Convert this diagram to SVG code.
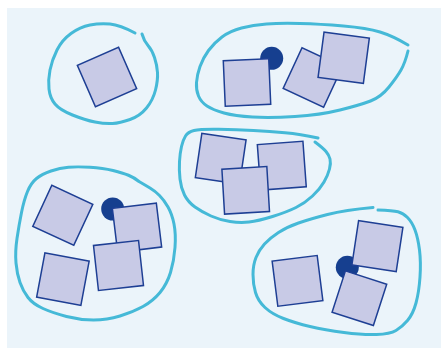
<svg xmlns="http://www.w3.org/2000/svg" width="441" height="348" viewBox="0 0 441 348">
<style>
.bg{fill:#EBF4FA}
.blob{fill:none;stroke:#45B9D7;stroke-width:3;stroke-linecap:round;stroke-linejoin:round}
.sq{fill:#C8CAE6;stroke:#1E3F94;stroke-width:1.5}
.dot{fill:#163F8F}
</style>
<rect class="bg" x="7" y="8" width="434" height="340"/>
<g id="blobs">
<path class="blob" d="M142,34 Q144,41 148,45.5 Q152,50 154.5,57.5 Q157,65 157.5,72.5 Q158,80 155.5,90 Q153,100 146.5,108 Q140,116 130,119.5 Q120,123 112.5,123.5 Q105,124 95,122 Q85,120 72.5,115 Q60,110 55,104 Q50,98 49,89 Q48,80 50,70 Q52,60 57,50 Q62,40 71,33.5 Q80,27 90,25 Q100,23 110,24 Q120,25 135,33"/>
<path class="blob" d="M408,45 Q393,36 380,32 Q367,28 343.5,26 Q320,24 300,23.5 Q280,23 266.5,24 Q253,25 241.5,28 Q230,31 222,37 Q214,43 208.5,50.5 Q203,58 200,66.5 Q197,75 196.5,82.5 Q196,90 198.5,96 Q201,102 207,106 Q213,110 224,113 Q235,116 252.5,117 Q270,118 295,116.5 Q320,115 340,110 Q360,105 370.5,101 Q381,97 389,87 Q397,77 401,70 Q405,63 408,51"/>
<path class="blob" d="M318,138 Q300,134 285,132.75 Q270,131.5 253.5,130.5 Q237,129.5 218.5,129.25 Q200,129 194,130.5 Q188,132 185.5,136 Q183,140 181.5,146.5 Q180,153 179.5,161.5 Q179,170 180,179 Q181,188 184.5,195 Q188,202 195,207 Q202,212 211,216 Q220,220 230,221.5 Q240,223 249,222 Q258,221 272.5,216.5 Q287,212 296,207.5 Q305,203 312.5,196 Q320,189 324,182 Q328,175 329.5,169 Q331,163 330,159 Q329,155 326,151.5 Q323,148 315,142"/>
<path class="blob" d="M139,181.5 Q134,177.5 128.5,175.25 Q123,173 113,170.5 Q103,168 90,167.25 Q77,166.5 68.5,167.25 Q60,168 51,171 Q42,174 36.5,178.5 Q31,183 27.5,191.5 Q24,200 21.5,212.5 Q19,225 17,238.5 Q15,252 16,263 Q17,274 20,282.5 Q23,291 28,297.5 Q33,304 43,308.5 Q53,313 66.5,316.5 Q80,320 93.5,320 Q107,320 120,316 Q133,312 143,306.5 Q153,301 160,292.5 Q167,284 170.5,272.5 Q174,261 175,247.5 Q176,234 174,224 Q172,214 168,207 Q164,200 159.5,195.5 Q155,191 150,188 Q145,185 139,181.5"/>
<path class="blob" d="M373,207.5 Q345,210 327.5,214.5 Q310,219 298.5,223 Q287,227 278.5,232.5 Q270,238 264.5,244 Q259,250 256,257.5 Q253,265 253,274.5 Q253,284 255.5,292.5 Q258,301 265,307.5 Q272,314 283.5,318.5 Q295,323 310,326.5 Q325,330 344,332.5 Q363,335 376.5,334.5 Q390,334 396,330.5 Q402,327 407.5,320.5 Q413,314 416,303 Q419,292 420,277 Q421,262 419.5,250 Q418,238 415,230 Q412,222 407.5,217.5 Q403,213 398,211.75 Q393,210.5 378,210"/>
</g>
<g id="cluster1">
<rect class="sq" x="-22.5" y="-22.5" width="45" height="45" transform="translate(107,77) rotate(-23.7)"/>
</g>
<g id="cluster2">
<circle class="dot" cx="271.7" cy="58.3" r="11.5"/>
<rect class="sq" x="-22.75" y="-22.75" width="45.5" height="45.5" transform="translate(247,82.5) rotate(-2.5)"/>
<rect class="sq" x="-22.3" y="-22.3" width="44.6" height="44.6" transform="translate(312.8,77.5) rotate(25)"/>
<rect class="sq" x="-22.85" y="-22.85" width="45.7" height="45.7" transform="translate(343.7,57.7) rotate(7.5)"/>
</g>
<g id="cluster3">
<rect class="sq" x="-22.35" y="-22.35" width="44.7" height="44.7" transform="translate(220.7,158.8) rotate(8.4)"/>
<rect class="sq" x="-22.85" y="-22.85" width="45.7" height="45.7" transform="translate(281.8,165.7) rotate(-4.2)"/>
<rect class="sq" x="-22.5" y="-22.5" width="45" height="45" transform="translate(245.7,190.3) rotate(-3.4)"/>
</g>
<g id="cluster4">
<rect class="sq" x="-22.6" y="-22.6" width="45.2" height="45.2" transform="translate(62.8,215.3) rotate(24.9)"/>
<circle class="dot" cx="112.7" cy="209" r="11.5"/>
<rect class="sq" x="-22.15" y="-22.15" width="44.3" height="44.3" transform="translate(137,227.7) rotate(-6.9)"/>
<rect class="sq" x="-22.65" y="-22.65" width="45.3" height="45.3" transform="translate(118.5,265.5) rotate(-6.3)"/>
<rect class="sq" x="-22.5" y="-22.5" width="45" height="45" transform="translate(62.9,279.2) rotate(10.6)"/>
</g>
<g id="cluster5">
<rect class="sq" x="-22.7" y="-22.7" width="45.4" height="45.4" transform="translate(297.5,280.9) rotate(-7.2)"/>
<circle class="dot" cx="347.3" cy="267.3" r="11.5"/>
<rect class="sq" x="-22.4" y="-22.4" width="44.8" height="44.8" transform="translate(377.4,246.1) rotate(8.6)"/>
<rect class="sq" x="-21.7" y="-21.7" width="43.4" height="43.4" transform="translate(359.4,298.2) rotate(17.9)"/>
</g>
<g id="connectors"/>
</svg>
